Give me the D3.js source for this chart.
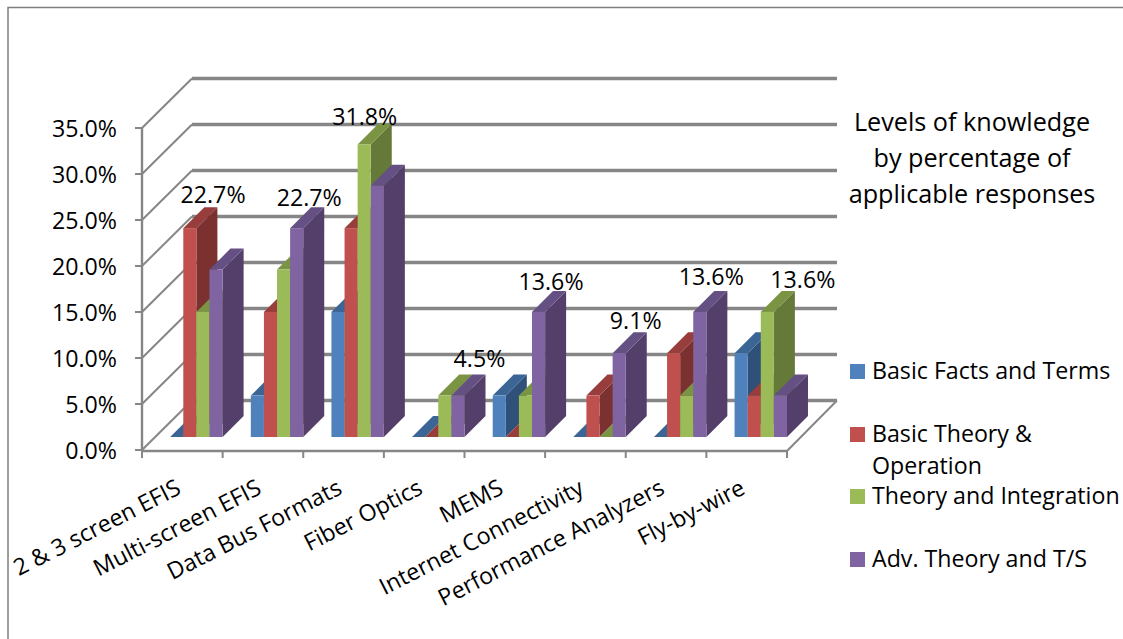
<!DOCTYPE html>
<html><head><meta charset="utf-8">
<script src="https://cdn.jsdelivr.net/npm/d3@7/dist/d3.min.js"></script>
<style>html,body{margin:0;padding:0;background:#fff}svg{display:block}text{font-family:"Open Sans",sans-serif;fill:#000}</style>
</head><body>
<script>
const categories = ["2 & 3 screen EFIS","Multi-screen EFIS","Data Bus Formats","Fiber Optics","MEMS","Internet Connectivity","Performance Analyzers","Fly-by-wire"];
const seriesNames = ["Basic Facts and Terms","Basic Theory & Operation","Theory and Integration","Adv. Theory and T/S"];
const basicFacts = [0,4.5,13.6,0,4.5,0,0,9.1];
const basicTheory = [22.7,13.6,22.7,0,0,4.5,9.1,4.5];
const theoryIntegration = [13.6,18.2,31.8,4.5,4.5,0,4.5,13.6];
const advTheory = [18.2,22.7,27.3,4.5,13.6,9.1,13.6,4.5];
const yTicks = [0,5,10,15,20,25,30,35];
const titleLines = ["Levels of knowledge","by percentage of","applicable responses"];
const series = [basicFacts,basicTheory,theoryIntegration,advTheory];

const W=1123,H=639;
const front=["#4f81bd","#c0504d","#9bbb59","#8064a2"];
const topc=["#3a6594","#973d3b","#7a9444","#645082"];
const side=["#2f5078","#7a3130","#657a38","#533f69"];
const grid="#868686";
const fs=23.2;
const svg=d3.select("body").append("svg").attr("width",W).attr("height",H);

// frame
svg.append("path").attr("d","M8,639V7.5H1123").attr("fill","none").attr("stroke","#7f7f7f").attr("stroke-width",1.5);

const axisX0=142,axisX1=787,y0Front=450,y35Front=128;
const wallDx=50,wallDy=49.5;
const x=d3.scaleBand().domain(categories).range([axisX0,axisX1]);
const y=d3.scaleLinear().domain([0,35]).range([y0Front,y35Front]);
const barDepth=21, barBaseShift=13;
const barLeft=28.2, barW=13.1;

// walls
const g=svg.append("g").attr("fill","none").attr("stroke",grid);
yTicks.forEach(t=>{
  const yy=y(t);
  g.append("path").attr("d",`M${axisX0},${yy}L${axisX0+wallDx},${yy-wallDy}`).attr("stroke-width",2);
  g.append("path").attr("d",`M${axisX0+wallDx},${yy-wallDy}H${axisX1+wallDx}`).attr("stroke-width",3.5);
});
// floor
g.append("path").attr("d",`M${axisX1},${y0Front+1}L${axisX1+wallDx},${y0Front-wallDy}`).attr("stroke-width",2);
// axes
g.append("path").attr("d",`M${axisX0},${y35Front}V${y0Front}`).attr("stroke-width",2.4);
g.append("path").attr("d",`M${axisX0},${y0Front+1}H${axisX1}`).attr("stroke-width",2.4);
yTicks.forEach(t=>g.append("path").attr("d",`M${axisX0-7},${y(t)}H${axisX0}`).attr("stroke-width",2));
[...categories.map(c=>x(c)),axisX1].forEach(v=>g.append("path").attr("d",`M${v},${y0Front}v8`).attr("stroke-width",2));

// y tick labels
svg.append("g").selectAll("text").data(yTicks).join("text")
  .attr("x",117).attr("y",t=>y(t)+1).attr("dy","0.35em").attr("text-anchor","end")
  .attr("font-size",fs).text(t=>t.toFixed(1)+"%");

// bars
const h=v=>y0Front-y(v);
const base=y0Front-barBaseShift;
const bars=svg.append("g");
categories.forEach((c,i)=>{
  series.forEach((s,k)=>{
    const v=s[i], X=x(c)+barLeft+k*barW, T=base-h(v);
    const b=bars.append("g");
    if(v>0) b.append("path").attr("d",`M${X+barW},${T}l${barDepth},${-barDepth}V${base-barDepth}l${-barDepth},${barDepth}Z`).attr("fill",side[k]);
    b.append("path").attr("d",`M${X},${T}l${barDepth},${-barDepth}h${barW}l${-barDepth},${barDepth}Z`).attr("fill",topc[k]);
    if(v>0) b.append("rect").attr("x",X).attr("y",T).attr("width",barW).attr("height",h(v)).attr("fill",front[k]);
  });
});

// value labels: tallest bar of each category, placed as hand-moved in the source
const labelSeries=[1,3,2,3,3,3,3,2];
const labelDx=[23.2,12.5,0.5,21.5,12.5,16.5,11.5,35.5];
const labelDy=[-33,-30,-28,-37,-30,-32,-35,-32];
svg.append("g").selectAll("text").data(categories).join("text")
  .attr("x",(c,i)=>x(c)+barLeft+(labelSeries[i]+.5)*barW+labelDx[i])
  .attr("y",(c,i)=>base-h(series[labelSeries[i]][i])+labelDy[i])
  .attr("dy","0.35em").attr("text-anchor","middle").attr("font-size",fs)
  .text((c,i)=>series[labelSeries[i]][i].toFixed(1)+"%");

// category labels
svg.append("g").selectAll("text").data(categories).join("text")
  .attr("text-anchor","end").attr("font-size",fs)
  .attr("transform",c=>`translate(${x(c)+x.bandwidth()/2},${y0Front+43}) rotate(-27)`)
  .text(c=>c);

// title
svg.append("g").selectAll("text").data(titleLines).join("text")
  .attr("x",972).attr("y",(d,i)=>131+i*36).attr("text-anchor","middle").attr("font-size",25.2).text(d=>d);

// legend
const legY=[364,427,489,552];
const lg=svg.append("g");
seriesNames.forEach((n,k)=>{
  lg.append("rect").attr("x",850).attr("y",legY[k]).attr("width",15).attr("height",15).attr("fill",front[k]);
  const parts=k===1?["Basic Theory &","Operation"]:[n];
  parts.forEach((p,j)=>lg.append("text").attr("x",872).attr("y",legY[k]+15+j*32).attr("font-size",fs).text(p));
});
</script>
</body></html>
